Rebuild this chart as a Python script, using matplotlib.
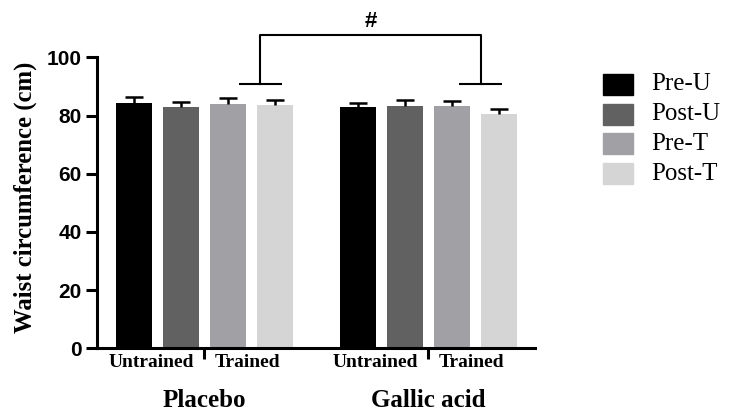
import numpy as np
import matplotlib
matplotlib.use("Agg")
import matplotlib.pyplot as plt
from matplotlib.patches import Rectangle
from matplotlib.transforms import blended_transform_factory

# ---- data ----
groups = ["Placebo", "Gallic acid"]
subgroups = ["Untrained", "Trained"]
series = ["Pre-U", "Post-U", "Pre-T", "Post-T"]
means = {
    "Placebo":     [84.4, 82.8, 84.1, 83.6],
    "Gallic acid": [82.8, 83.4, 83.3, 80.6],
}
errors = {
    "Placebo":     [2.0, 1.8, 1.8, 1.8],
    "Gallic acid": [1.6, 1.8, 1.8, 1.6],
}
colors = ["#000000", "#616161", "#a1a0a5", "#d5d5d5"]
yticks = [0, 20, 40, 60, 80, 100]

# ---- layout ----
W, H = 733, 420
fig = plt.figure(figsize=(W / 100, H / 100), dpi=100)
ax = fig.add_axes([97 / W, 1 - 348.3 / H, (535 - 97) / W, (348.3 - 57.3) / H])

bar_w = 36 / 47
cap_w = bar_w / 2
group_step = 4 + bar_w
serif = ["Liberation Serif", "DejaVu Serif"]
sans = ["Liberation Sans", "DejaVu Sans"]

bar_x = {}
for gi, g in enumerate(groups):
    xs = np.arange(4) + gi * group_step
    bar_x[g] = xs
    m = np.array(means[g])
    e = np.array(errors[g])
    ax.bar(xs, m, width=bar_w, color=colors, zorder=2)
    # upper-only error bars
    ax.vlines(xs, m, m + e, color="black", lw=1.8, zorder=3)
    ax.hlines(m + e, xs - cap_w / 2, xs + cap_w / 2, color="black", lw=1.8,
              zorder=3)

ax.set_xlim(-0.781, 8.538)
ax.set_ylim(0, 100)
ax.set_yticks(yticks)
ax.set_yticklabels([str(v) for v in yticks], fontfamily=sans,
                   fontweight="bold", fontsize=15)
ax.tick_params(axis="y", length=8, width=2.2, pad=3)

# x axis: separators as minor ticks, no major ticks
ax.set_xticks([])
sep = [bar_x[g][0] + 1.5 for g in groups]
ax.set_xticks(sep, minor=True)
ax.tick_params(axis="x", which="minor", length=8, width=2.2, labelbottom=False)

for s in ["top", "right"]:
    ax.spines[s].set_visible(False)
for s in ["left", "bottom"]:
    ax.spines[s].set_linewidth(2.2)

trans = blended_transform_factory(ax.transData, ax.transAxes)
for g in groups:
    xs = bar_x[g]
    ax.text((xs[0] + xs[1]) / 2 - 0.12, -0.05, subgroups[0], transform=trans,
            ha="center", va="center", fontfamily=serif, fontweight="bold",
            fontsize=14)
    ax.text((xs[2] + xs[3]) / 2 - 0.07, -0.05, subgroups[1], transform=trans,
            ha="center", va="center", fontfamily=serif, fontweight="bold",
            fontsize=14)
    ax.text((xs[0] + xs[3]) / 2, -0.181, g, transform=trans,
            ha="center", va="center", fontfamily=serif, fontweight="bold",
            fontsize=18)

# significance bracket
bx = [bar_x["Placebo"][2] + 0.69, bar_x["Gallic acid"][2] + 0.62]
y_low, y_top, half = 90.7, 107.7, 0.46
for x in bx:
    ax.plot([x - half, x + half], [y_low, y_low], color="black", lw=1.5,
            clip_on=False, solid_capstyle="butt")
ax.plot([bx[0], bx[0], bx[1], bx[1]], [y_low, y_top, y_top, y_low],
        color="black", lw=1.5, clip_on=False)
ax.text(sum(bx) / 2, 112.3, "#", ha="center", va="center",
        fontfamily=sans, fontweight="bold", fontsize=16, clip_on=False)

# y label
fig.text(25 / W, 1 - 197.5 / H, "Waist circumference (cm)", rotation=90,
         ha="center", va="center", fontfamily=serif, fontweight="bold",
         fontsize=17.8)

# legend (manual)
for i, (lab, c) in enumerate(zip(series, colors)):
    yc = 84.5 + 29.7 * i
    fig.patches.append(Rectangle((603 / W, 1 - (yc + 10.5) / H), 30 / W, 21 / H,
                                 transform=fig.transFigure, color=c,
                                 figure=fig))
    fig.text(651 / W, 1 - yc / H, lab, ha="left", va="center",
             fontfamily=serif, fontsize=18)

fig.savefig("out.png", dpi=100)
